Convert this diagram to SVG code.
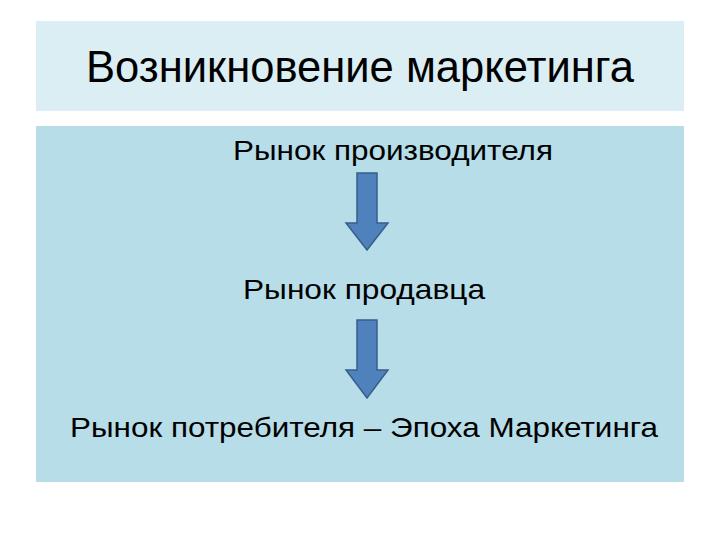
<svg xmlns="http://www.w3.org/2000/svg" width="720" height="540" viewBox="0 0 720 540">
<style>
.t{font-family:"Liberation Sans",Arial,sans-serif;fill:#000}
.arr{fill:#4f81bd;stroke:#385d8a;stroke-width:1.5}
</style>
<rect width="720" height="540" fill="#fff"/>
<g id="title">
<rect x="36" y="21" width="648" height="90" fill="#dbeef3"/>
<text class="t" x="86" y="82" font-size="44" textLength="548" lengthAdjust="spacingAndGlyphs">Возникновение маркетинга</text>
</g>
<g id="body">
<rect x="36" y="126" width="648" height="356" fill="#b7dde8"/>
</g>
<g id="node1"><text class="t" x="233" y="160" font-size="28.5" textLength="320" lengthAdjust="spacingAndGlyphs">Рынок производителя</text></g>
<g id="node2"><text class="t" x="243" y="299" font-size="28.5" textLength="242" lengthAdjust="spacingAndGlyphs">Рынок продавца</text></g>
<g id="node3"><text class="t" x="70" y="437" font-size="28.5" textLength="588" lengthAdjust="spacingAndGlyphs">Рынок потребителя – Эпоха Маркетинга</text></g>
<g id="connectors">
<path class="arr" d="M357 173H377V223H388L367 250L346 223H357Z"/>
<path class="arr" d="M357 320H377V370H388L367 398L346 370H357Z"/>
</g>
</svg>
